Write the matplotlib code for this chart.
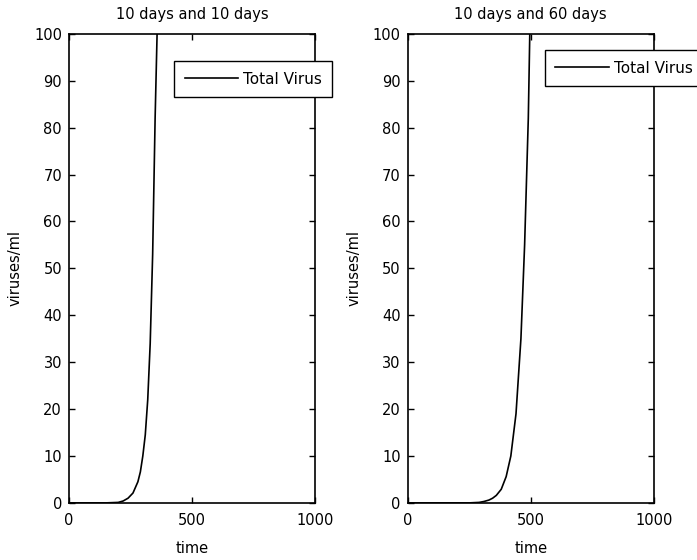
import matplotlib
matplotlib.use("Agg")
import matplotlib.pyplot as plt

# ------------------------ Data ------------------------
TITLES = ["10 days and 10 days", "10 days and 60 days"]

time_left = [0, 150, 200, 220, 240, 260, 280, 290, 300, 310, 320, 330, 340, 350, 358, 365]
virus_left = [0, 0, 0.1, 0.4, 1.0, 2.1, 4.5, 6.6, 10, 14.5, 22, 34, 53, 82, 100, 130]

time_right = [0, 250, 290, 310, 330, 345, 360, 380, 400, 419, 440, 460, 475, 490, 496, 502]
virus_right = [0, 0, 0.1, 0.3, 0.6, 1.0, 1.6, 2.9, 5.6, 10, 19, 35, 55, 82, 100, 120]

X_TICKS = [0, 500, 1000]
Y_TICKS = list(range(0, 101, 10))

# ------------------------ Plot ------------------------
plt.rcParams['font.family'] = ['DejaVu Sans']
plt.rcParams['font.size'] = 10.5

fig = plt.figure(figsize=(6.97, 5.6), dpi=100)
ax_l = fig.add_axes([0.099, 0.102, 0.353, 0.8375])
ax_r = fig.add_axes([0.585, 0.102, 0.353, 0.8375])

series = [(ax_l, time_left, virus_left, (0.427, 0.942)),
          (ax_r, time_right, virus_right, (0.557, 0.966))]

for i, (ax, t, v, anchor) in enumerate(series):
    ax.plot(t, v, color='black', lw=1.2, label='Total Virus')
    ax.set_xlim(0, 1000)
    ax.set_ylim(0, 100)
    ax.set_xticks(X_TICKS)
    ax.set_yticks(Y_TICKS)
    ax.tick_params(direction='in', top=True, right=True, length=4, width=1, colors='black')
    ax.tick_params(axis='x', pad=7)
    ax.tick_params(axis='y', pad=5)
    for s in ax.spines.values():
        s.set_linewidth(1.2)
    ax.set_title(TITLES[i], fontsize=10.5, pad=11)
    ax.set_xlabel('time', labelpad=10)
    ax.set_ylabel('viruses/ml', labelpad=8)
    leg = ax.legend(loc='upper left', bbox_to_anchor=anchor, fancybox=False,
                    edgecolor='black', framealpha=1, handlelength=3.5,
                    fontsize=11, borderpad=0.7, handletextpad=0.3, borderaxespad=0)
    leg.get_frame().set_linewidth(1.0)

fig.savefig('out.png', dpi=100)
